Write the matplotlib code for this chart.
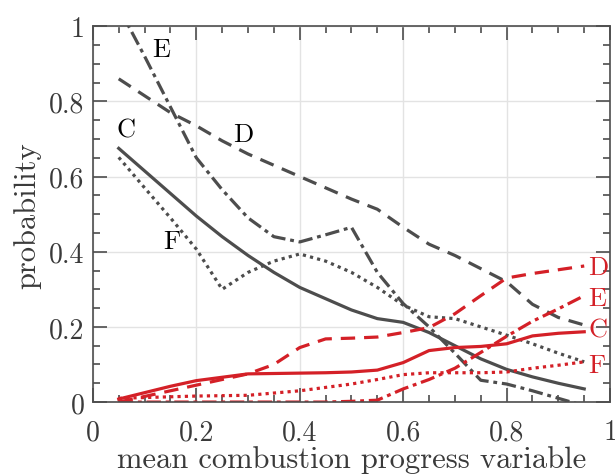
import numpy as np
import matplotlib
matplotlib.use("Agg")
import matplotlib.pyplot as plt
from matplotlib.ticker import MultipleLocator, FuncFormatter

# mean progress variable bins
x = [0.05, 0.10, 0.15, 0.20, 0.25, 0.30, 0.35, 0.40, 0.45, 0.50,
     0.55, 0.60, 0.65, 0.70, 0.75, 0.80, 0.85, 0.90, 0.95]

# gray curves
gray_C = [0.675, 0.615, 0.555, 0.495, 0.44, 0.39, 0.345, 0.305, 0.275, 0.245,
          0.222, 0.212, 0.185, 0.15, 0.115, 0.087, 0.067, 0.05, 0.035]
gray_D = [0.86, 0.815, 0.77, 0.735, 0.695, 0.66, 0.63, 0.60, 0.57, 0.54,
          0.513, 0.465, 0.42, 0.39, 0.355, 0.32, 0.26, 0.225, 0.205]
gray_E = [1.05, 0.92, 0.785, 0.65, 0.565, 0.49, 0.44, 0.426, 0.445, 0.465,
          0.345, 0.262, 0.20, 0.13, 0.058, 0.048, 0.03, 0.01, -0.01]
gray_F = [0.651, 0.57, 0.49, 0.407, 0.30, 0.345, 0.375, 0.394, 0.375, 0.345,
          0.305, 0.258, 0.227, 0.222, 0.20, 0.178, 0.155, 0.13, 0.107]

# red curves
red_C = [0.008, 0.025, 0.042, 0.057, 0.066, 0.075, 0.076, 0.077, 0.078, 0.080,
         0.085, 0.105, 0.137, 0.145, 0.148, 0.155, 0.176, 0.183, 0.187]
red_D = [0.0, 0.015, 0.03, 0.045, 0.06, 0.075, 0.10, 0.145, 0.168, 0.170,
         0.173, 0.185, 0.198, 0.235, 0.283, 0.33, 0.342, 0.352, 0.362]
red_E = [0.0, 0.0, 0.0, 0.0, 0.0, 0.0, 0.0, 0.0, 0.0, 0.002,
         0.005, 0.035, 0.06, 0.09, 0.132, 0.175, 0.215, 0.248, 0.283]
red_F = [0.01, 0.012, 0.014, 0.016, 0.017, 0.018, 0.024, 0.03, 0.039, 0.048,
         0.06, 0.073, 0.078, 0.078, 0.078, 0.08, 0.09, 0.098, 0.107]

gray = '#4d4d4d'
red = '#d42027'

plt.rcParams['font.family'] = 'cmr10'
plt.rcParams['axes.formatter.use_mathtext'] = True
plt.rcParams['mathtext.fontset'] = 'cm'

fig = plt.figure(figsize=(6.15, 4.77), dpi=100)
ax = fig.add_axes([0.151, 0.155, 0.841, 0.788])

lw = 2.3
styles = {'C': '-', 'D': (0, (4.5, 2.8)), 'E': (0, (4.5, 1.5, 1.2, 1.5)), 'F': (0, (1.0, 1.3))}
for key, ys in zip('CDEF', [gray_C, gray_D, gray_E, gray_F]):
    ax.plot(x, ys, color=gray, lw=lw, ls=styles[key])
for key, ys in zip('CDEF', [red_C, red_D, red_E, red_F]):
    ax.plot(x, ys, color=red, lw=lw, ls=styles[key])

fs = 19
ax.text(0.133, 0.94, 'E', fontsize=fs, ha='center', va='center', color='black')
ax.text(0.29, 0.713, 'D', fontsize=fs, ha='center', va='center', color='black')
ax.text(0.064, 0.726, 'C', fontsize=fs, ha='center', va='center', color='black')
ax.text(0.152, 0.428, 'F', fontsize=fs, ha='center', va='center', color='black')
for lab, yy in zip('DECF', [0.359, 0.277, 0.194, 0.098]):
    ax.text(0.958, yy, lab, fontsize=fs, ha='left', va='center', color=red)

ax.set_xlim(0, 1)
ax.set_ylim(0, 1)
ax.xaxis.set_major_locator(MultipleLocator(0.2))
ax.yaxis.set_major_locator(MultipleLocator(0.2))
ax.xaxis.set_minor_locator(MultipleLocator(0.05))
ax.yaxis.set_minor_locator(MultipleLocator(0.05))
fmt = FuncFormatter(lambda v, p: f'{v:g}')
ax.xaxis.set_major_formatter(fmt)
ax.yaxis.set_major_formatter(fmt)
ax.grid(True, which='major', color='#e3e3e3', lw=1.0)
ax.set_axisbelow(True)
ax.tick_params(which='both', direction='in', top=True, right=True, color=gray,
               labelsize=20, labelcolor='#3a3a3a', width=1.2)
ax.tick_params(which='major', length=10)
ax.tick_params(axis='y', which='major', pad=6)
ax.tick_params(axis='x', which='major', pad=12)
ax.tick_params(which='minor', length=5)
for s in ax.spines.values():
    s.set_color(gray)
    s.set_linewidth(1.2)

ax.set_xlabel('mean combustion progress variable', fontsize=22, color='#3a3a3a', labelpad=0)
ax.set_ylabel('probability', fontsize=22, color='#3a3a3a', labelpad=6)

fig.savefig('out.png', dpi=100)
